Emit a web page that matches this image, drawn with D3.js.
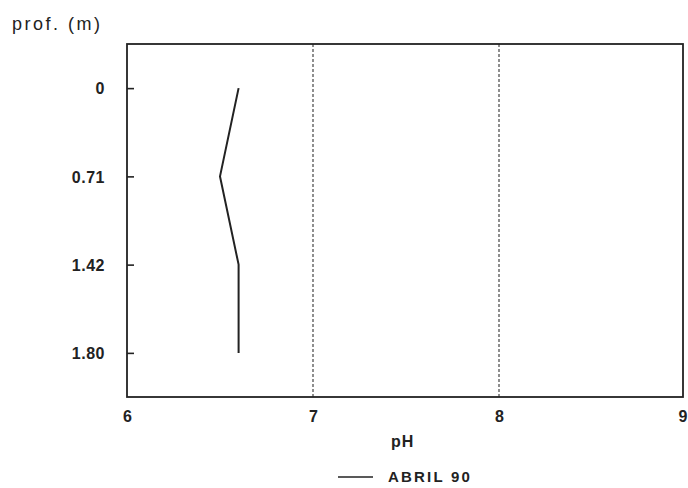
<!DOCTYPE html>
<html>
<head>
<meta charset="utf-8">
<script src="https://cdn.jsdelivr.net/npm/d3@7"></script>
<style>
  body { margin: 0; background: #fff; }
  svg { display: block; }
  text { font-family: "Liberation Sans", Arial, sans-serif; fill: #222; }
</style>
</head>
<body>
<svg id="chart" width="688" height="488"></svg>
<script>
// Depth profile of pH, April 1990
const depths = ["0", "0.71", "1.42", "1.80"];
const phValues = [6.6, 6.5, 6.6, 6.6];
const xTicks = [6, 7, 8, 9];
const gridValues = [7, 8];
const seriesName = "ABRIL 90";

const svg = d3.select("#chart");
const margin = { left: 127, right: 5, top: 44, bottom: 91 };
const W = 688, H = 488;
const frameRight = 683;

const x = d3.scaleLinear().domain([6, 9]).range([margin.left, 685]);
const y = d3.scalePoint().domain(depths).range([margin.top, H - margin.bottom]).padding(0.5);

// dashed reference lines at pH 7 and 8
svg.append("g").selectAll("line").data(gridValues).join("line")
  .attr("x1", d => x(d)).attr("x2", d => x(d))
  .attr("y1", margin.top).attr("y2", H - margin.bottom)
  .attr("stroke", "#444").attr("stroke-width", 1.2)
  .attr("stroke-dasharray", "3,2");

// frame
svg.append("rect")
  .attr("x", margin.left).attr("y", margin.top)
  .attr("width", frameRight - margin.left).attr("height", H - margin.bottom - margin.top)
  .attr("fill", "none").attr("stroke", "#222").attr("stroke-width", 1.8);

// y axis: inward ticks, depth labels
const yAxis = d3.axisLeft(y).tickSize(0).tickPadding(22);
const gy = svg.append("g").attr("transform", `translate(${margin.left},0)`).call(yAxis);
gy.select(".domain").remove();
gy.selectAll(".tick").append("line")
  .attr("x1", 0).attr("x2", 7)
  .attr("stroke", "#222").attr("stroke-width", 1.6);
gy.selectAll(".tick text")
  .style("font-size", "16px").style("font-weight", "bold").style("letter-spacing", "0.5px")
  .attr("fill", "#222").attr("dy", "0.36em");

// x axis labels; the last one is kept inside the page edge
const xAxis = d3.axisBottom(x).tickValues(xTicks).tickSize(0).tickPadding(14).tickFormat(d3.format("d"));
const gx = svg.append("g").attr("transform", `translate(0,${H - margin.bottom})`).call(xAxis);
gx.select(".domain").remove();
gx.selectAll(".tick text").style("font-size", "16px").style("font-weight", "bold").attr("fill", "#222");
gx.selectAll(".tick text").filter(d => d === 9)
  .attr("text-anchor", "end").attr("x", W - 1 - x(9));

// profile line
const line = d3.line().x(d => x(d[1])).y(d => y(d[0]));
svg.append("path")
  .datum(depths.map((d, i) => [d, phValues[i]]))
  .attr("d", line)
  .attr("fill", "none").attr("stroke", "#222").attr("stroke-width", 2);

// titles
svg.append("text").attr("x", 12).attr("y", 30)
  .style("font-size", "18px").style("letter-spacing", "2.5px").text("prof. (m)");
svg.append("text").attr("x", 391).attr("y", 447)
  .style("font-size", "16px").style("font-weight", "bold").style("letter-spacing", "1px").text("pH");

// legend
svg.append("line").attr("x1", 338).attr("x2", 373).attr("y1", 477).attr("y2", 477)
  .attr("stroke", "#222").attr("stroke-width", 1.5);
svg.append("text").attr("x", 388).attr("y", 482)
  .style("font-size", "15px").style("font-weight", "bold").style("letter-spacing", "2.2px").text(seriesName);
</script>
</body>
</html>
